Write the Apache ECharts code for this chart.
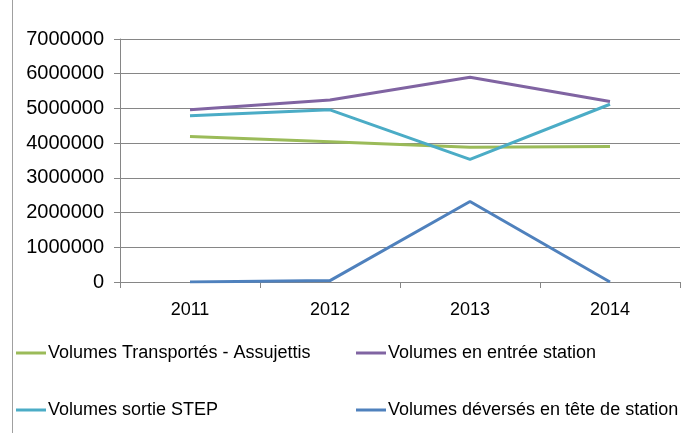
<!DOCTYPE html>
<html>
<head>
<meta charset="utf-8">
<script src="https://cdn.jsdelivr.net/npm/echarts@6/dist/echarts.min.js"></script>
<style>
  html, body { margin: 0; padding: 0; background: #fff; }
  #chart { width: 689px; height: 433px; }
</style>
</head>
<body>
<div id="chart"></div>
<script>
const years = ['2011', '2012', '2013', '2014'];
const transportes = [4190000, 4040000, 3880000, 3900000];
const entree = [4960000, 5240000, 5900000, 5200000];
const sortie = [4790000, 4960000, 3530000, 5120000];
const deverses = [0, 40000, 2320000, 0];
const yTicks = [0, 1000000, 2000000, 3000000, 4000000, 5000000, 6000000, 7000000];

const names = [
  'Volumes Transportés - Assujettis',
  'Volumes en entrée station',
  'Volumes sortie STEP',
  'Volumes déversés en tête de station'
];
const colors = ['#9bbb59', '#8064a2', '#4bacc6', '#4f81bd'];
const values = [transportes, entree, sortie, deverses];

const font = 'Liberation Sans, Arial, sans-serif';
const chart = echarts.init(document.getElementById('chart'));

const legendPos = [
  { left: 16, top: 344 },
  { left: 356, top: 344 },
  { left: 16, top: 401 },
  { left: 356, top: 401 }
];

chart.setOption({
  animation: false,
  graphic: [{
    type: 'line',
    shape: { x1: 12.5, y1: 0, x2: 12.5, y2: 433 },
    style: { stroke: '#a0a0a0', lineWidth: 1 }
  }],
  grid: { left: 120, right: 9, top: 39, bottom: 151 },
  legend: legendPos.map((p, i) => ({
    left: p.left,
    top: p.top,
    padding: 0,
    data: [names[i]],
    icon: 'rect',
    itemWidth: 30,
    itemHeight: 3,
    itemGap: 2,
    textStyle: { fontFamily: font, fontSize: 18, color: '#000', padding: [0, 0, 0, -3] }
  })),
  xAxis: {
    type: 'category',
    data: years,
    boundaryGap: true,
    axisLine: { lineStyle: { color: '#868686' } },
    axisTick: { show: true, alignWithLabel: false, length: 6, lineStyle: { color: '#868686' } },
    axisLabel: { fontFamily: font, fontSize: 18, color: '#000', margin: 19 }
  },
  yAxis: {
    type: 'value',
    min: 0,
    max: 7000000,
    interval: 1000000,
    axisLine: { show: true, lineStyle: { color: '#868686' } },
    axisTick: { show: true, length: 6, lineStyle: { color: '#868686' } },
    splitLine: { lineStyle: { color: '#868686' } },
    axisLabel: {
      fontFamily: font, fontSize: 20, color: '#000', margin: 16,
      formatter: v => yTicks.includes(v) ? String(v) : ''
    }
  },
  series: values.map((d, i) => ({
    name: names[i],
    type: 'line',
    data: d,
    symbol: 'none',
    lineStyle: { color: colors[i], width: 3 },
    itemStyle: { color: colors[i] }
  }))
});
</script>
</body>
</html>
